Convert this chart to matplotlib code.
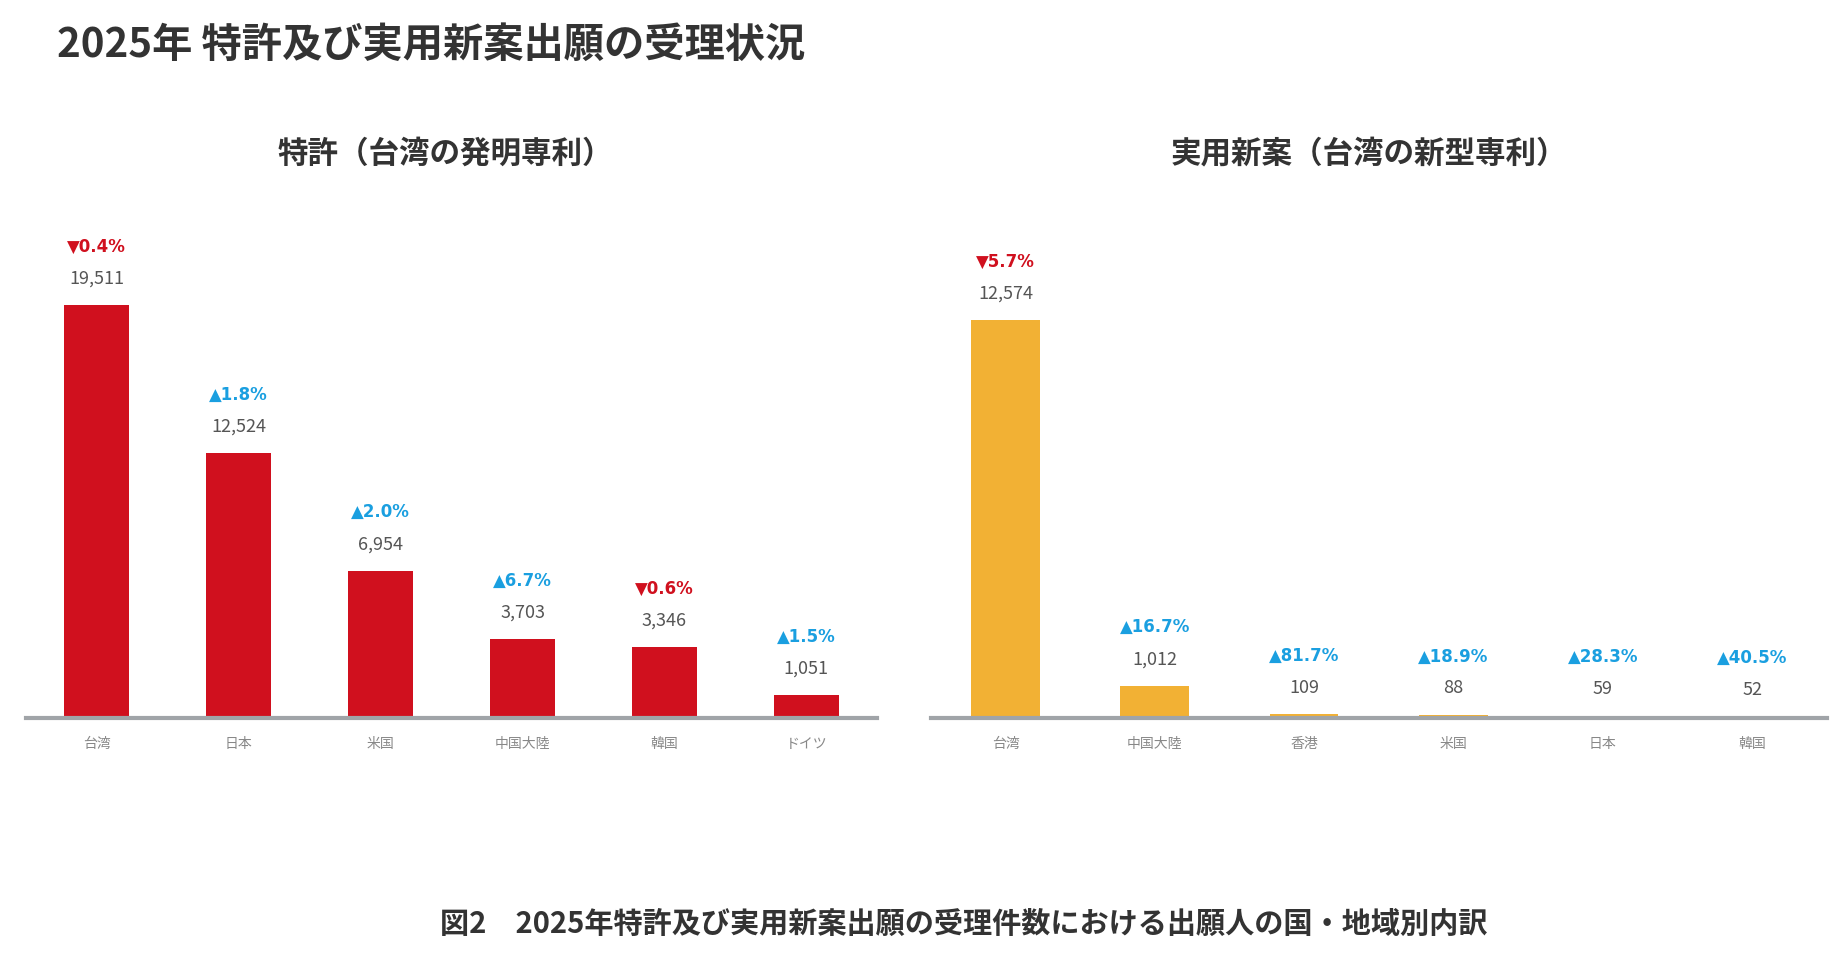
import matplotlib.pyplot as plt

plt.rcParams['font.family'] = ['Noto Sans CJK JP', 'DejaVu Sans']

patent_labels = ["台湾", "日本", "米国", "中国大陸", "韓国", "ドイツ"]
patent_values = [19511, 12524, 6954, 3703, 3346, 1051]
patent_change = [-0.4, 1.8, 2.0, 6.7, -0.6, 1.5]

utility_labels = ["台湾", "中国大陸", "香港", "米国", "日本", "韓国"]
utility_values = [12574, 1012, 109, 88, 59, 52]
utility_change = [-5.7, 16.7, 81.7, 18.9, 28.3, 40.5]

RED = "#d0101e"
BLUE = "#1a9fe0"
TEXT = "#555555"


def draw_panel(ax, labels, values, changes, color, ymax):
    x = range(len(labels))
    ax.bar(x, values, width=0.46, color=color)
    for i, (v, c) in enumerate(zip(values, changes)):
        ax.annotate(f"{v:,}", (i, v), xytext=(0, 19), textcoords="offset points",
                    ha="center", va="center", fontsize=13, color=TEXT)
        mark = "▲" if c > 0 else "▼"
        ax.annotate(f"{mark}{abs(c):.1f}%", (i, v), xytext=(0, 42), textcoords="offset points",
                    ha="center", va="center", fontsize=12, fontweight="bold",
                    color=BLUE if c > 0 else RED, family=['DejaVu Sans'])
    ax.set_xticks(list(x))
    ax.set_xticklabels(labels, fontsize=10, color="#888888")
    ax.tick_params(axis="x", length=0, pad=14)
    ax.set_yticks([])
    ax.set_ylim(0, ymax)
    ax.set_xlim(-0.5, len(labels) - 0.5)
    for s in ["top", "right", "left"]:
        ax.spines[s].set_visible(False)
    ax.spines["bottom"].set_color("#a0a4a8")
    ax.spines["bottom"].set_linewidth(3)


fig = plt.figure(figsize=(18.47, 9.58), dpi=100)
ax1 = fig.add_axes([0.014, 0.251, 0.461, 0.564])
ax2 = fig.add_axes([0.504, 0.251, 0.485, 0.564])

draw_panel(ax1, patent_labels, patent_values, patent_change, RED, 25560)
draw_panel(ax2, utility_labels, utility_values, utility_change, "#f2b134", 17080)

fig.text(0.241, 0.84, "特許（台湾の発明専利）", fontsize=22, fontweight="bold",
         color="#333333", ha="center", va="center")
fig.text(0.741, 0.84, "実用新案（台湾の新型専利）", fontsize=22, fontweight="bold",
         color="#333333", ha="center", va="center")

fig.text(0.031, 0.953, "2025年 特許及び実用新案出願の受理状況", fontsize=29, fontweight="bold",
         color="#333333", va="center", ha="left")
fig.text(0.522, 0.036, "図2　2025年特許及び実用新案出願の受理件数における出願人の国・地域別内訳",
         fontsize=21, fontweight="bold", color="#333333", ha="center", va="center")

fig.savefig("out.png", dpi=100)
